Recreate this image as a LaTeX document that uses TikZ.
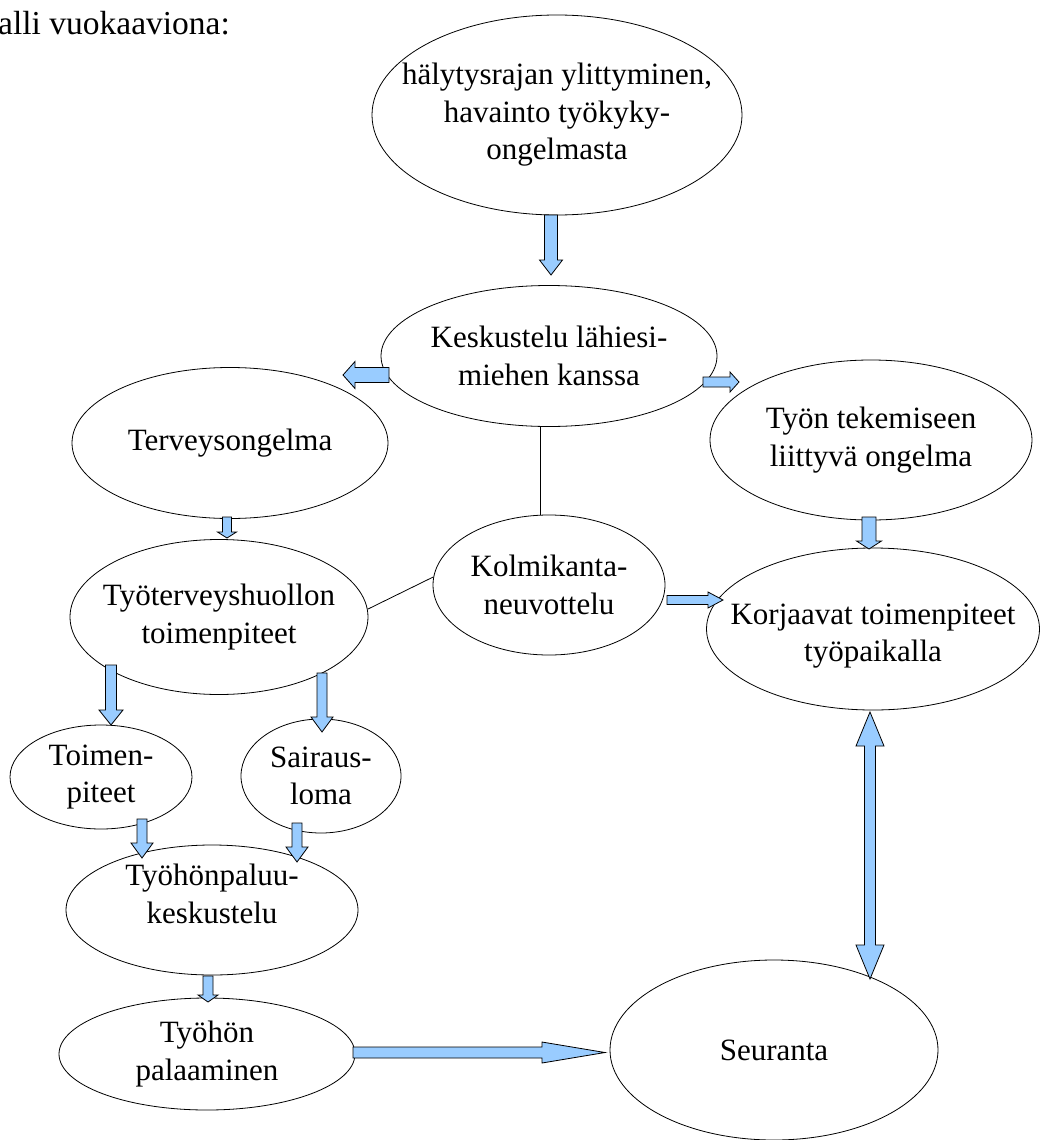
\documentclass[tikz,border=0pt]{standalone}
\usepackage{fontspec}
\setmainfont{Liberation Serif}
\usetikzlibrary{shapes.geometric,calc}
\definecolor{arrowblue}{RGB}{153,204,255}
\tikzset{
  oval/.style={draw=black, line width=0.8pt, ellipse, inner sep=0pt},
  txt/.style={align=center, inner sep=0pt, font=\fontsize{31}{37.5}\selectfont},
  barrow/.style={draw=black, line width=0.8pt, fill=arrowblue, line join=miter},
  plainline/.style={draw=black, line width=0.8pt}
}
% #1 from, #2 to, #3 half shaft, #4 half head, #5 head length
\newcommand\blockarr[5]{%
  \draw[barrow] ($(#1)!#3!90:(#2)$) -- ($(#2)!#5!(#1)!#3!90:(#2)$) -- ($(#2)!#5!(#1)!#4!90:(#2)$)
   -- (#2) -- ($(#2)!#5!(#1)!#4!270:(#2)$) -- ($(#2)!#5!(#1)!#3!270:(#2)$) -- ($(#1)!#3!270:(#2)$) -- cycle;}
\newcommand\dblockarr[5]{%
  \draw[barrow] (#1) -- ($(#1)!#5!(#2)!#4!90:(#2)$) -- ($(#1)!#5!(#2)!#3!90:(#2)$)
   -- ($(#2)!#5!(#1)!#3!90:(#2)$) -- ($(#2)!#5!(#1)!#4!90:(#2)$) -- (#2)
   -- ($(#2)!#5!(#1)!#4!270:(#2)$) -- ($(#2)!#5!(#1)!#3!270:(#2)$)
   -- ($(#1)!#5!(#2)!#3!270:(#2)$) -- ($(#1)!#5!(#2)!#4!270:(#2)$) -- cycle;}
\begin{document}
\begin{tikzpicture}[x=1pt,y=1pt]
\useasboundingbox[fill=white] (0,0) rectangle (1042,-1140);
\node[anchor=base west, inner sep=0pt, font=\fontsize{33.5}{40}\selectfont] (title) at (-2,-35) {alli vuokaaviona:};

\node[oval, minimum width=370, minimum height=200, label={[txt]center:{hälytysrajan ylittyminen,\\havainto työkyky-\\ongelmasta}}] (top) at (557,-115) {};
\node[oval, minimum width=336, minimum height=141, label={[txt]center:{Keskustelu lähiesi-\\miehen kanssa}}] (kesk) at (549,-356) {};
\node[oval, minimum width=316, minimum height=151, label={[txt]center:{Terveysongelma}}] (terv) at (230,-443) {};
\node[oval, minimum width=322, minimum height=160, label={[txt]center:{Työn tekemiseen\\liittyvä ongelma}}] (tyon) at (871,-440) {};
\node[oval, minimum width=232, minimum height=140, label={[txt]center:{Kolmikanta-\\neuvottelu}}] (kolmi) at (549,-585) {};
\node[oval, minimum width=298, minimum height=155, label={[txt]center:{Työterveyshuollon\\toimenpiteet}}] (tth) at (219,-617) {};
\node[oval, minimum width=333, minimum height=162, label={[txt, yshift=-7pt]center:{Korjaavat toimenpiteet\\työpaikalla}}] (korj) at (873,-629) {};
\node[oval, minimum width=182, minimum height=104, label={[txt]center:{Toimen-\\piteet}}] (toim) at (101,-777) {};
\node[oval, minimum width=160, minimum height=114, label={[txt]center:{Sairaus-\\loma}}] (sair) at (321,-776) {};
\node[oval, minimum width=292, minimum height=130, label={[txt, yshift=16pt]center:{Työhönpaluu-\\keskustelu}}] (paluu) at (212,-910) {};
\node[oval, minimum width=296, minimum height=112, label={[txt]center:{Työhön\\palaaminen}}] (tyoh) at (207,-1054) {};
\node[oval, minimum width=328, minimum height=180, label={[txt]center:{Seuranta}}] (seur) at (774,-1050) {};

% plain connector lines
\coordinate (lx) at (540,0);
\draw[plainline] (kesk.south -| lx) -- (kolmi.north -| lx);
\draw[plainline] (tth.3) -- (kolmi.176);

% arrow end points
\coordinate (a1s) at (551,-215);   \coordinate (a1e) at (551,-275);
\coordinate (a2s) at (389,-375);   \coordinate (a2e) at (343,-375);
\coordinate (a3s) at (703,-382);   \coordinate (a3e) at (739,-382);
\coordinate (a4s) at (227,-517);   \coordinate (a4e) at (227,-538);
\coordinate (a5s) at (869,-517);   \coordinate (a5e) at (869,-549);
\coordinate (a6s) at (667,-600);   \coordinate (a6e) at (723,-600);
\coordinate (a7s) at (111,-665);   \coordinate (a7e) at (111,-725);
\coordinate (a8s) at (322,-673);   \coordinate (a8e) at (322,-732);
\coordinate (a9s) at (142,-819);   \coordinate (a9e) at (142,-858);
\coordinate (a10s) at (297,-823);  \coordinate (a10e) at (297,-862);
\coordinate (a11s) at (208,-976);  \coordinate (a11e) at (208,-1002);
\coordinate (a12s) at (353,-1052.5); \coordinate (a12e) at (605,-1052.5);
\coordinate (a13s) at (870,-712);  \coordinate (a13e) at (870,-979);

\blockarr{a1s}{a1e}{6.5pt}{11.5pt}{15pt}
\blockarr{a2s}{a2e}{7.5pt}{13.5pt}{12pt}
\blockarr{a3s}{a3e}{5pt}{10pt}{9pt}
\blockarr{a4s}{a4e}{4.5pt}{9.5pt}{6pt}
\blockarr{a5s}{a5e}{7pt}{12.5pt}{8pt}
\blockarr{a6s}{a6e}{4.5pt}{8pt}{15pt}
\blockarr{a7s}{a7e}{5.5pt}{12pt}{15pt}
\blockarr{a8s}{a8e}{5pt}{11pt}{15pt}
\blockarr{a9s}{a9e}{5pt}{11pt}{15pt}
\blockarr{a10s}{a10e}{5pt}{11pt}{15pt}
\blockarr{a11s}{a11e}{5pt}{10pt}{7pt}
\blockarr{a12s}{a12e}{5.5pt}{10.5pt}{63pt}
\dblockarr{a13s}{a13e}{5.5pt}{14pt}{34pt}
\end{tikzpicture}
\end{document}
